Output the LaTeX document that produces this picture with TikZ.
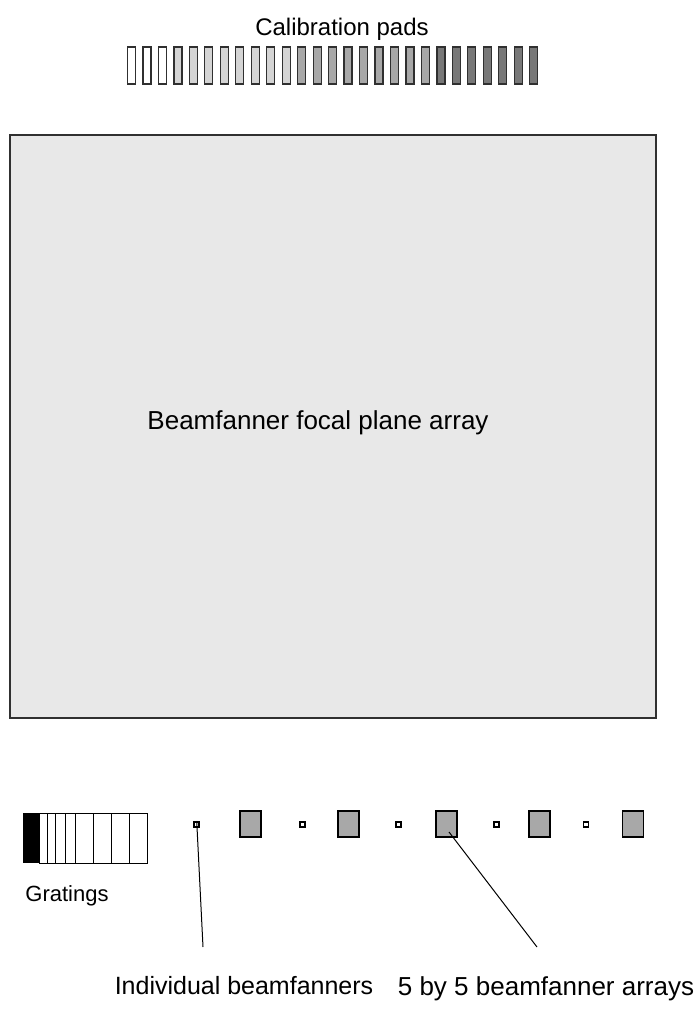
\documentclass[tikz,border=0pt]{standalone}
\usepackage{fontspec}
\setmainfont{Liberation Sans}
\definecolor{planegray}{HTML}{E8E8E8}
\definecolor{padlight}{HTML}{D4D4D4}
\definecolor{padmid}{HTML}{A8A8A8}
\definecolor{paddark}{HTML}{787878}
\definecolor{arrgray}{HTML}{A8A8A8}
\definecolor{edgegray}{HTML}{303030}
\begin{document}
\begin{tikzpicture}[x=1pt,y=-1pt,
  padbox/.style={draw=edgegray, line width=1.2pt},
  lbl/.style={font=\fontsize{24}{28}\selectfont, inner sep=0pt},
  lblbig/.style={font=\fontsize{26}{30}\selectfont, inner sep=0pt},
  lblmid/.style={font=\fontsize{25}{29}\selectfont, inner sep=0pt},
  lblsmall/.style={font=\fontsize{22}{26}\selectfont, inner sep=0pt},
  smallsq/.style={draw=black, line width=1.2pt, fill=white, minimum width=5pt, minimum height=5pt, inner sep=0pt},
  bigsq/.style={draw=black, line width=1.3pt, fill=arrgray, minimum width=21pt, minimum height=26pt, inner sep=0pt},
  leader/.style={draw=black, line width=1pt},
  grline/.style={draw=black, line width=1pt}
  ]
\useasboundingbox (0,0) rectangle (697,1010);

% calibration pads
\node[lbl, anchor=base] (caltxt) at (342,35) {Calibration pads};
\foreach \i in {0,...,26}{
  \pgfmathsetmacro{\xl}{127.5+15.47*\i}
  \ifnum\i<3 \def\pc{white}\else
    \ifnum\i<11 \def\pc{padlight}\else
      \ifnum\i<20 \def\pc{padmid}\else \def\pc{paddark}\fi
    \fi
  \fi
  \path[padbox, fill=\pc] (\xl,47) rectangle ++(8,37);
}

% focal plane array
\node[draw=edgegray, line width=1.6pt, fill=planegray, minimum width=646pt, minimum height=583pt, inner sep=0pt] (fpa) at (333,426.5) {};
\node[lblbig, anchor=base] (fpatxt) at (318,429) {Beamfanner focal plane array};

% gratings
\fill[black] (23,813) rectangle (38.5,863);
\draw[grline] (39.5,813) rectangle (147.3,863);
\foreach \gx in {47,55,65,75.7,93.3,111.7,129.3}{
  \draw[grline] (\gx,813) -- (\gx,863);
}
\node[lblsmall, anchor=base] (grtxt) at (67,901) {Gratings};

% individual beamfanners
\node[smallsq] (s1) at (196.5,824.5) {};
\node[smallsq] (s2) at (302.5,824.5) {};
\node[smallsq] (s3) at (398.5,824.5) {};
\node[smallsq] (s4) at (496.5,824.5) {};
\node[smallsq] (s5) at (586,824.5) {};

% 5 by 5 arrays
\node[bigsq] (b1) at (250.5,824) {};
\node[bigsq] (b2) at (348.5,824) {};
\node[bigsq] (b3) at (446.5,824) {};
\node[bigsq] (b4) at (539.5,824) {};
\node[bigsq] (b5) at (633,824) {};

% labels and leaders
\node[lblmid, anchor=base] (indtxt) at (244,994) {Individual beamfanners};
\node[lblbig, anchor=base] (arrtxt) at (546,995) {5 by 5 beamfanner arrays};
\coordinate (s1top) at (196.7,821);
\coordinate (l1end) at (203,947);
\coordinate (b3in) at (449,832);
\coordinate (l2end) at (537,947);
\draw[leader] (s1top) -- (l1end);
\draw[leader] (b3in) -- (l2end);
\end{tikzpicture}
\end{document}
